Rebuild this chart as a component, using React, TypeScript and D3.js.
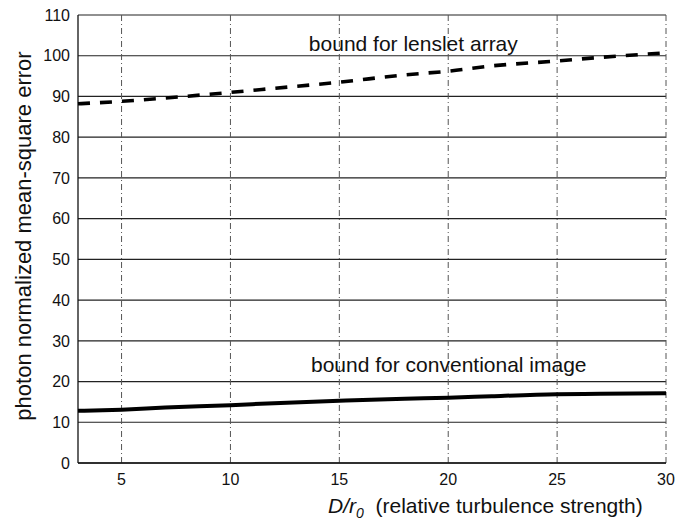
import React from 'react'
import * as d3 from 'd3'

// D/r0 sample points and the two bounds
const turbulence = [3, 5, 7, 10, 12, 15, 18, 20, 22, 25, 27, 30]
const lensletBound = [88.2, 88.8, 89.6, 91.0, 92.0, 93.5, 95.3, 96.2, 97.5, 98.7, 99.6, 100.7]
const conventionalBound = [12.8, 13.1, 13.6, 14.2, 14.7, 15.3, 15.8, 16.0, 16.4, 16.9, 17.0, 17.1]

const xTicks = [5, 10, 15, 20, 25, 30]
const yTicks = [0, 10, 20, 30, 40, 50, 60, 70, 80, 90, 100, 110]

const W = 675
const H = 529
const m = { left: 78, right: 666, top: 15, bottom: 463 }
const font = 'Arial, "Liberation Sans", Helvetica, sans-serif'

export default function App() {
    const x = d3.scaleLinear().domain([3, 30]).range([m.left, m.right])
    const y = d3.scaleLinear().domain([0, 110]).range([m.bottom, m.top])

    const line = d3.line<number>().x((_, i) => x(turbulence[i])).y(d => y(d)).curve(d3.curveMonotoneX)

    return (
        <svg width={W} height={H} style={{ position: 'absolute', left: 0, top: 0, background: '#fff' }} fontFamily={font}>
            {/* horizontal grid, solid */}
            {yTicks.map(t => (
                <line key={'h' + t} x1={m.left} x2={m.right} y1={y(t)} y2={y(t)} stroke="#222" strokeWidth={1.2} />
            ))}
            {/* vertical grid, dash-dot */}
            {xTicks.map(t => (
                <line key={'v' + t} x1={x(t)} x2={x(t)} y1={m.top} y2={m.bottom} stroke="#555" strokeWidth={1} strokeDasharray="6,3,1,3" />
            ))}
            {/* left and bottom axis */}
            <line x1={m.left} x2={m.left} y1={m.top} y2={m.bottom} stroke="#111" strokeWidth={1.3} />
            <line x1={m.left} x2={m.right} y1={m.bottom} y2={m.bottom} stroke="#111" strokeWidth={1.3} />

            {/* data */}
            <path d={line(lensletBound) ?? ''} fill="none" stroke="#000" strokeWidth={3.6} strokeDasharray="12,10" />
            <path d={line(conventionalBound) ?? ''} fill="none" stroke="#000" strokeWidth={4} />

            {/* tick labels */}
            {yTicks.map(t => (
                <text key={'yl' + t} x={m.left - 8} y={y(t)} dy="0.36em" textAnchor="end" fontSize={16} fill="#111">{t}</text>
            ))}
            {xTicks.map(t => (
                <text key={'xl' + t} x={x(t)} y={485} textAnchor="middle" fontSize={16} fill="#111">{t}</text>
            ))}

            {/* annotations */}
            <text x={x(13.6)} y={y(101.2)} fontSize={21} fill="#111">bound for lenslet array</text>
            <text x={x(13.7)} y={y(22.3)} fontSize={21} fill="#111">bound for conventional image</text>

            {/* axis titles */}
            <text x={328} y={513} fontSize={21} fill="#111">
                <tspan fontStyle="italic">D/r</tspan>
                <tspan fontStyle="italic" fontSize={14} dy={5}>0</tspan>
                <tspan dy={-5} xmlSpace="preserve">{'  (relative turbulence strength)'}</tspan>
            </text>
            <text transform="translate(31,236) rotate(-90)" textAnchor="middle" fontSize={22} fill="#111">
                photon normalized mean-square error
            </text>
        </svg>
    )
}
